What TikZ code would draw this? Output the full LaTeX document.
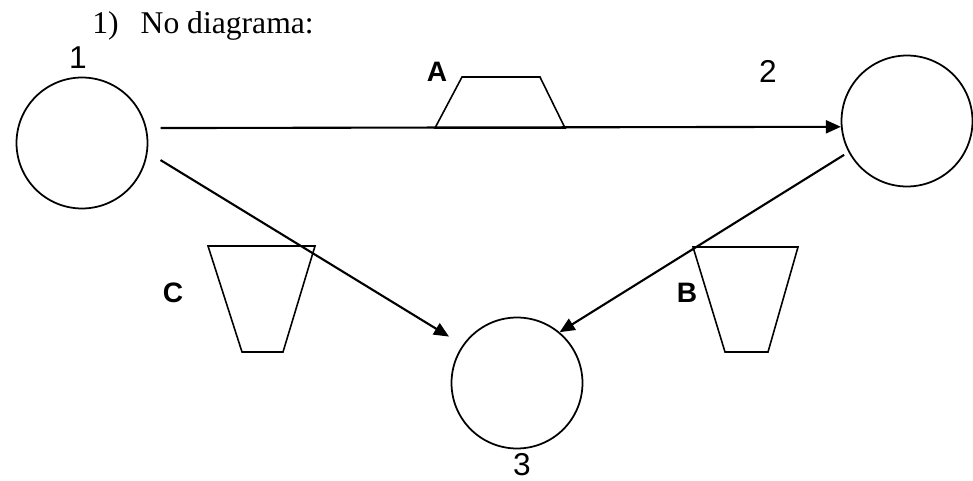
\documentclass[tikz,border=0pt]{standalone}
\usepackage{fontspec}
\setmainfont{Liberation Serif}
\setsansfont{Liberation Sans}
\usetikzlibrary{arrows.meta}

\tikzset{
  place/.style={draw, circle, minimum size=2.62cm, inner sep=0pt, line width=1pt},
  flow/.style={line width=1.2pt, -{Triangle[length=0.3cm,width=0.26cm]}},
  tank/.style={line width=0.9pt},
  numlbl/.style={font=\sffamily\fontsize{18}{18}\selectfont, inner sep=0pt},
  letlbl/.style={font=\sffamily\bfseries\fontsize{16}{16}\selectfont, inner sep=0pt}
}

\begin{document}
\begin{tikzpicture}[x=0.02cm, y=-0.02cm]
			%%%%% START %%%%%
			\useasboundingbox (0,0) rectangle (973,480);
			
			\node[anchor=base west, inner sep=0pt, font=\fontsize{18}{18}\selectfont] (title) at (92,33) {1)\hspace{0.44cm}No diagrama:};
			
			\node[place] (c1) at (82,143) {};
			\node[place] (c2) at (907,121) {};
			\node[place] (c3) at (517,383) {};
			
			\node[numlbl] (n1) at (78,58) {1};
			\node[numlbl] (n2) at (768,71) {2};
			\node[numlbl] (n3) at (522,465) {3};
			
			\node[letlbl] (la) at (437,72) {A};
			\node[letlbl] (lb) at (687,293) {B};
			\node[letlbl] (lc) at (173,293) {C};
			
			\draw[tank] (435,128) -- (462,77) -- (540,77) -- (565,128) -- cycle;
			\draw[tank] (208,246) -- (315,246) -- (283,352) -- (242,352) -- cycle;
			\draw[tank] (693,247) -- (798,247) -- (768,352) -- (725,352) -- cycle;
			
			\draw[flow, shorten <=0.28cm] (c1.13) -- (c2.185);
			\draw[flow, shorten <=0.3cm, shorten >=0.32cm] (c1.-8) -- (c3.145);
			\draw[flow, shorten <=0.1cm] (c2.208) -- (c3.50);
			
			%%%%% END %%%%%
		\end{tikzpicture}
\end{document}
